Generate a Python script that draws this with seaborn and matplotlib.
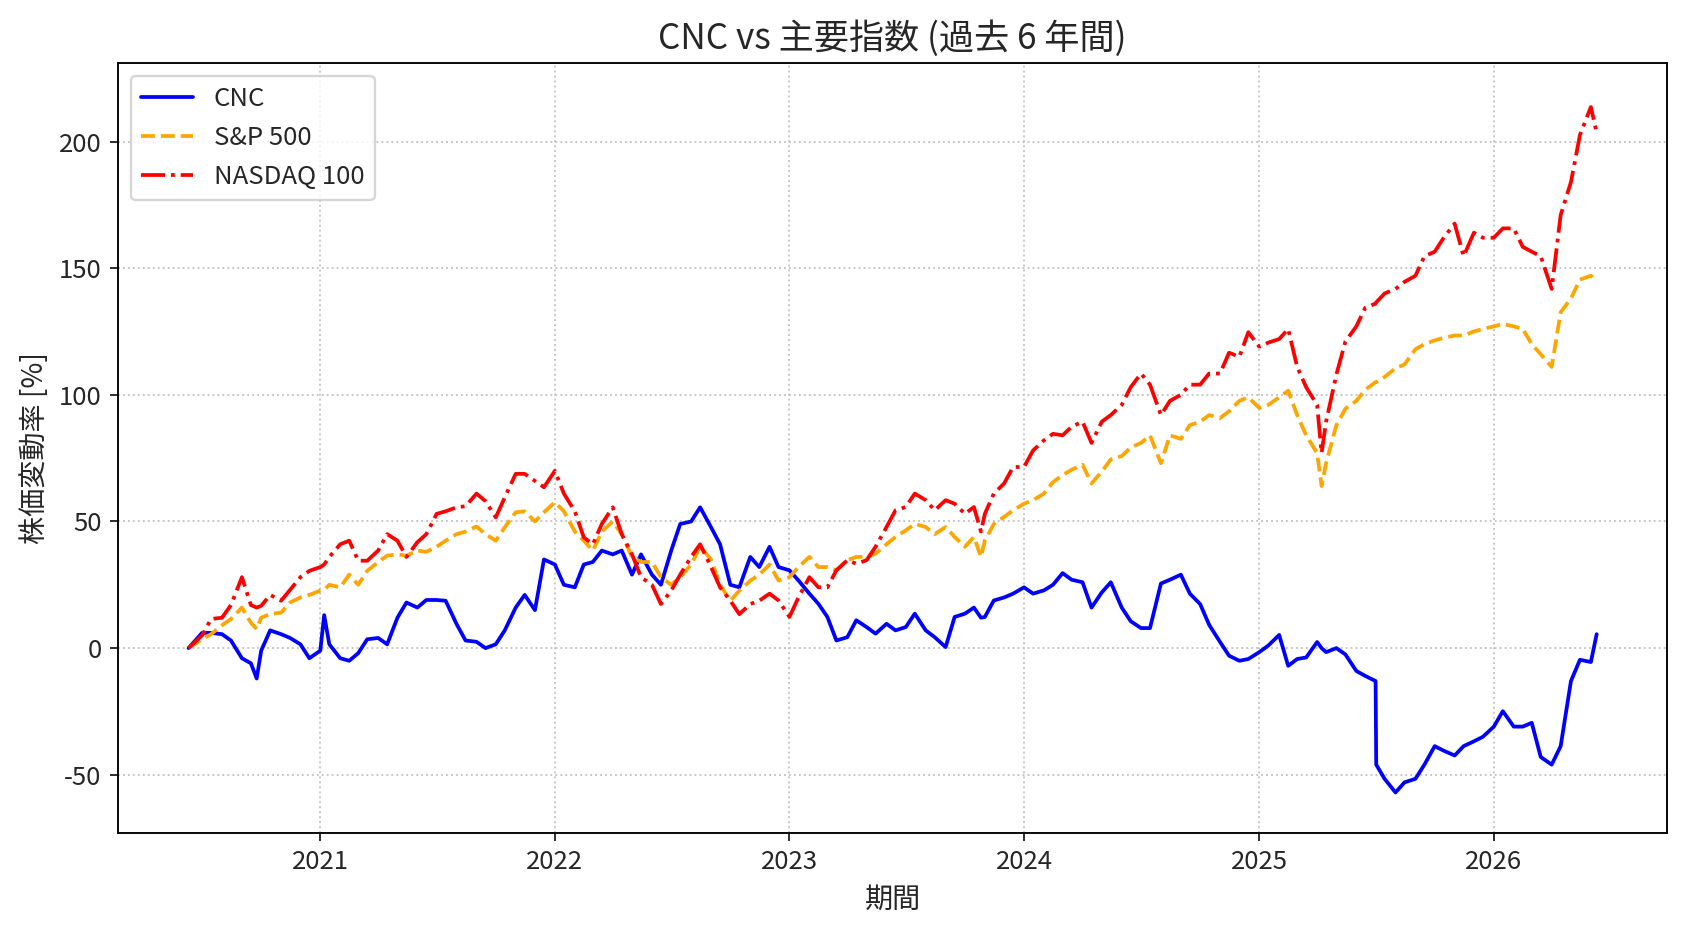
import pandas as pd
import matplotlib
matplotlib.use("Agg")
import matplotlib.pyplot as plt
import matplotlib.dates as mdates
import seaborn as sns

# 日付 (半月ごと + いくつかのイベント日)
dates = [
    "2020-06-10", "2020-07-01", "2020-07-15", "2020-08-01", "2020-08-15", "2020-09-01", "2020-09-15", "2020-09-24",
    "2020-10-01", "2020-10-15", "2020-11-01", "2020-11-15", "2020-12-01", "2020-12-15",
    "2021-01-01", "2021-01-07", "2021-01-15", "2021-02-01", "2021-02-15", "2021-03-01", "2021-03-15", "2021-04-01",
    "2021-04-15", "2021-05-01", "2021-05-15", "2021-06-01", "2021-06-15", "2021-07-01", "2021-07-15", "2021-08-01",
    "2021-08-15", "2021-09-01", "2021-09-15", "2021-10-01", "2021-10-15", "2021-11-01", "2021-11-15", "2021-12-01",
    "2021-12-15",
    "2022-01-01", "2022-01-15", "2022-02-01", "2022-02-15", "2022-03-01", "2022-03-15", "2022-04-01", "2022-04-15",
    "2022-05-01", "2022-05-15", "2022-06-01", "2022-06-15", "2022-07-01", "2022-07-15", "2022-08-01", "2022-08-15",
    "2022-09-01", "2022-09-15", "2022-10-01", "2022-10-15", "2022-11-01", "2022-11-15", "2022-12-01", "2022-12-15",
    "2023-01-01", "2023-01-15", "2023-02-01", "2023-02-15", "2023-03-01", "2023-03-15", "2023-04-01", "2023-04-15",
    "2023-05-01", "2023-05-15", "2023-06-01", "2023-06-15", "2023-07-01", "2023-07-15", "2023-08-01", "2023-08-15",
    "2023-09-01", "2023-09-15", "2023-10-01", "2023-10-15", "2023-10-26", "2023-11-01", "2023-11-15", "2023-12-01",
    "2023-12-15",
    "2024-01-01", "2024-01-15", "2024-02-01", "2024-02-15", "2024-03-01", "2024-03-15", "2024-04-01", "2024-04-15",
    "2024-05-01", "2024-05-15", "2024-06-01", "2024-06-15", "2024-07-01", "2024-07-15", "2024-08-01", "2024-08-15",
    "2024-09-01", "2024-09-15", "2024-10-01", "2024-10-15", "2024-11-01", "2024-11-15", "2024-12-01", "2024-12-15",
    "2025-01-01", "2025-01-15", "2025-02-01", "2025-02-15", "2025-03-01", "2025-03-15", "2025-04-01", "2025-04-08",
    "2025-04-15", "2025-05-01", "2025-05-15", "2025-06-01", "2025-06-15", "2025-07-01", "2025-07-02", "2025-07-15",
    "2025-08-01", "2025-08-15", "2025-09-01", "2025-09-15", "2025-10-01", "2025-10-15", "2025-11-01", "2025-11-15",
    "2025-12-01", "2025-12-15",
    "2026-01-01", "2026-01-15", "2026-02-01", "2026-02-15", "2026-03-01", "2026-03-15", "2026-04-01", "2026-04-15",
    "2026-05-01", "2026-05-15", "2026-06-01", "2026-06-10",
]

# 株価変動率 [%]
cnc = [
    0, 6, 6, 5.5, 3, -4, -6, -12,
    -1, 7, 5.5, 4, 1.5, -4,
    -1, 13, 1.5, -4, -5, -2, 3.5, 4,
    1.5, 12, 18, 16, 19, 19, 18.7, 9.5,
    3, 2.5, 0, 1.5, 7, 16, 21, 15,
    35,
    33, 25, 24, 33, 34, 38.5, 37, 38.5,
    29, 37, 29, 25, 38.5, 49, 50, 55.6,
    47.7, 41, 25, 24, 36, 32, 40, 32,
    30.7, 26.7, 21.5, 17.5, 12.3, 3, 4.3, 11,
    8.3, 5.7, 9.6, 7, 8.3, 13.6, 7, 4.3,
    0.4, 12.3, 13.6, 16, 12, 12.3, 18.8, 20,
    21.5,
    24, 21.5, 22.8, 25, 29.6, 27, 26, 16,
    22, 26, 16, 10.6, 7.9, 7.9, 25.5, 27,
    29, 21.5, 17.4, 9.2, 2.4, -3, -5, -4.3,
    -1.6, 1, 5.2, -7, -4.3, -3.7, 2.4, 0,
    -1.6, 0, -2.5, -9, -11, -13, -46, -51.6,
    -57, -53, -51.6, -46, -38.7, -40.5, -42.4, -38.7,
    -36.8, -35,
    -31, -24.9, -31, -31, -29.5, -43, -46, -38.7,
    -13, -4.6, -5.5, 5.5,
]

sp500 = [
    0, 3.5, 5.5, 9, 11.5, 16, 10, 7.5,
    12, 13.5, 14, 18, 20, 21,
    22.7, 23, 25, 24, 29, 25, 30.5, 34,
    36.5, 37, 36.5, 38.5, 38, 40, 42.4, 45,
    46, 48, 45, 42.4, 47.7, 53.6, 54, 50,
    53.6,
    57.6, 54, 46, 42.4, 38.5, 46, 50, 45,
    36, 34, 34, 28, 25, 28, 33, 40,
    35, 25, 18.7, 22.7, 26.6, 29, 33, 26.7,
    28, 32, 36, 32, 32, 30.7, 34.7, 36,
    36, 37.3, 41, 43.9, 46.5, 49, 47.8, 45,
    47.8, 43.9, 40, 43.9, 36, 42.5, 49, 51.8,
    54.4,
    57, 58.4, 61, 65.5, 68.3, 70.4, 72.4, 65,
    69.7, 74.5, 75.8, 79.2, 81, 84, 73, 84,
    82.6, 88, 89.4, 92, 90.8, 93.5, 97.6, 99,
    94.8, 96, 99, 101.6, 92, 84, 77, 64,
    73, 88, 94.5, 97.6, 102, 105, 105, 107,
    110.5, 112, 118, 120, 121.5, 122.5, 123.4, 123.4,
    125, 126,
    127, 128, 127, 126, 120, 116, 111, 132.6,
    138, 145.5, 147, 144.6,
]

nasdaq100 = [
    0, 5, 11.5, 12, 17, 28, 17, 16,
    16.7, 21, 18.7, 23, 28, 30.5,
    32, 33, 36, 41, 42.4, 34.5, 34.5, 38.5,
    45, 42.4, 36, 41.8, 45, 53, 54, 55.6,
    56, 61, 58, 51.6, 59.5, 68.8, 68.8, 66,
    63.5,
    70, 61, 54, 43.7, 41, 49, 55.6, 45,
    37, 28, 25, 17.4, 22.7, 29, 36, 41,
    32, 24, 18.7, 13.4, 17.4, 18.7, 21.5, 18.8,
    12.3, 20, 28, 24, 24, 30.7, 34.7, 33.3,
    34.7, 40, 47.8, 54.4, 55.7, 61, 58.4, 54.4,
    58.4, 57, 53, 55.7, 46, 53, 61, 65,
    71.5,
    71.5, 78, 82, 84.6, 84, 87.4, 89.4, 81,
    89.4, 92, 96, 103, 108.4, 104, 92, 97.6,
    100, 104, 104, 108.4, 108.4, 116.6, 115, 124.7,
    119, 120.6, 122, 126, 111, 103, 96, 77,
    89.4, 108, 121, 127, 134.4, 136, 136.5, 140,
    141.8, 144.6, 147, 154.7, 156.5, 162, 167.6, 154.7,
    164, 162,
    162, 165.7, 165.7, 158.4, 156.5, 154.7, 141.8, 171,
    184, 202.6, 213.6, 203.5,
]

df = pd.DataFrame({
    "date": pd.to_datetime(dates),
    "CNC": cnc,
    "S&P 500": sp500,
    "NASDAQ 100": nasdaq100,
})

sns.set_style("ticks")
plt.rcParams["font.family"] = ["Noto Sans CJK JP", "DejaVu Sans"]
plt.rcParams["axes.unicode_minus"] = False

fig, ax = plt.subplots(figsize=(10, 5.5215), dpi=168.8)

sns.lineplot(data=df, x="date", y="CNC", ax=ax, color="blue", linestyle="-", linewidth=1.6, label="CNC")
sns.lineplot(data=df, x="date", y="S&P 500", ax=ax, color="orange", linestyle="--", linewidth=1.6, label="S&P 500")
sns.lineplot(data=df, x="date", y="NASDAQ 100", ax=ax, color="red", linestyle="-.", linewidth=1.6, label="NASDAQ 100")

ax.set_title("CNC vs 主要指数 (過去 6 年間)", fontsize=15)
ax.set_xlabel("期間", fontsize=12)
ax.set_ylabel("株価変動率 [%]", fontsize=12)
ax.xaxis.set_major_locator(mdates.YearLocator())
ax.xaxis.set_major_formatter(mdates.DateFormatter("%Y"))
ax.tick_params(labelsize=11)
ax.set_ylim(-73, 231)
ax.grid(True, linestyle=":", color="#c4c4c4", linewidth=0.8)
for sp in ax.spines.values():
    sp.set_color("black")
    sp.set_linewidth(0.8)
ax.legend(loc="upper left", fontsize=11)

plt.subplots_adjust(left=0.07, right=0.9876, top=0.9324, bottom=0.1062)
plt.savefig("out.png", dpi=168.8)
